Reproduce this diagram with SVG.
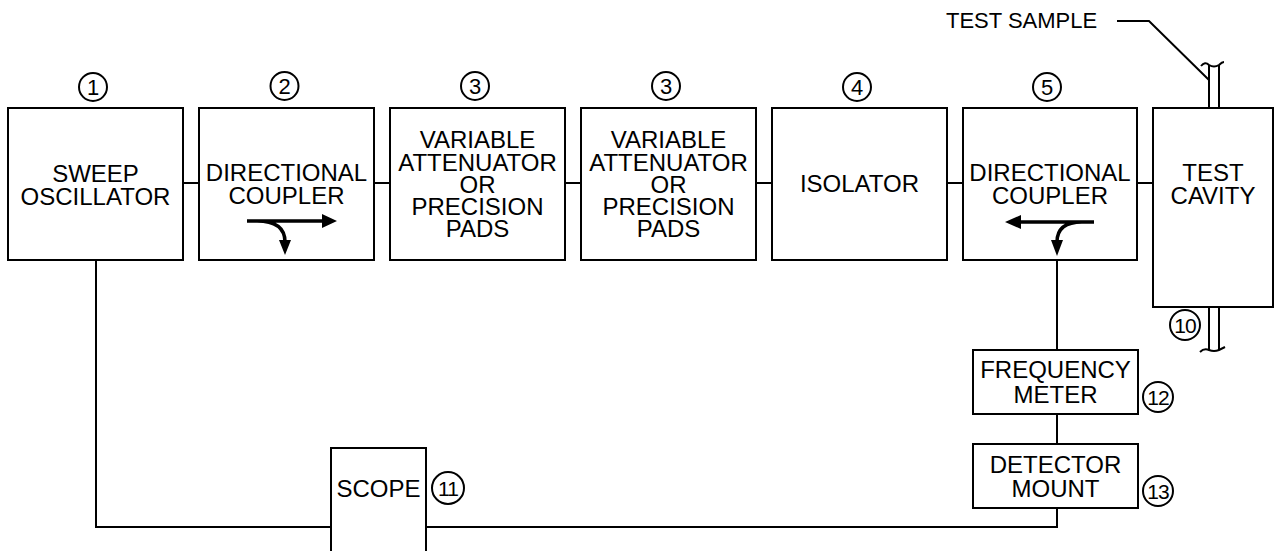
<svg xmlns="http://www.w3.org/2000/svg" width="1276" height="551" viewBox="0 0 1276 551">
<style>
.box{fill:#fff;stroke:#000;stroke-width:2}
.ln{fill:none;stroke:#000;stroke-width:2}
.arw{fill:none;stroke:#000;stroke-width:3.5}
.t{font-family:"Liberation Sans",Arial,sans-serif;font-size:24px;fill:#000;text-anchor:middle}
.n{font-family:"Liberation Sans",Arial,sans-serif;font-size:22px;fill:#000;text-anchor:middle}
.n2{font-family:"Liberation Sans",Arial,sans-serif;font-size:21px;fill:#000;text-anchor:middle;letter-spacing:-1px}
.c{fill:#fff;stroke:#000;stroke-width:2}
</style>
<rect width="1276" height="551" fill="#fff"/>
<g id="connectors">
<path class="ln" d="M183 183H199M374 183H390M565 183H581M756 183H772M947 183H963M1137 183H1153"/>
<path class="ln" d="M96 260V527H331M426 527H1057V508"/>
<path class="ln" d="M1057 260V350M1057 414V444"/>
</g>
<g id="n1">
<rect class="box" x="8" y="108" width="175" height="152"/>
<text class="t" x="95.5" y="182">SWEEP</text>
<text class="t" x="95.5" y="205">OSCILLATOR</text>
<circle class="c" cx="93" cy="87" r="14"/><text class="n" x="93" y="95">1</text>
</g>
<g id="n2">
<rect class="box" x="199" y="108" width="175" height="152"/>
<text class="t" x="286.5" y="181">DIRECTIONAL</text>
<text class="t" x="286.5" y="204">COUPLER</text>
<path class="arw" d="M247 221H324M257 221Q285 221 285 242"/>
<path d="M322 214L337 221L322 228Z M279 240L285 255L291 240Z"/>
<circle class="c" cx="284.5" cy="86" r="14"/><text class="n" x="284.5" y="94">2</text>
</g>
<g id="n3a">
<rect class="box" x="390" y="108" width="175" height="152"/>
<text class="t" x="477.5" y="148">VARIABLE</text>
<text class="t" x="477.5" y="171">ATTENUATOR</text>
<text class="t" x="477.5" y="193">OR</text>
<text class="t" x="477.5" y="215">PRECISION</text>
<text class="t" x="477.5" y="237">PADS</text>
<circle class="c" cx="475" cy="86" r="14"/><text class="n" x="475" y="94">3</text>
</g>
<g id="n3b">
<rect class="box" x="581" y="108" width="175" height="152"/>
<text class="t" x="668.5" y="148">VARIABLE</text>
<text class="t" x="668.5" y="171">ATTENUATOR</text>
<text class="t" x="668.5" y="193">OR</text>
<text class="t" x="668.5" y="215">PRECISION</text>
<text class="t" x="668.5" y="237">PADS</text>
<circle class="c" cx="666" cy="86" r="14"/><text class="n" x="666" y="94">3</text>
</g>
<g id="n4">
<rect class="box" x="772" y="108" width="175" height="152"/>
<text class="t" x="859.5" y="192">ISOLATOR</text>
<circle class="c" cx="857" cy="87" r="14"/><text class="n" x="857" y="95">4</text>
</g>
<g id="n5">
<rect class="box" x="963" y="108" width="174" height="152"/>
<text class="t" x="1050" y="181">DIRECTIONAL</text>
<text class="t" x="1050" y="204">COUPLER</text>
<path class="arw" d="M1094 222H1019M1082 222Q1057 222 1057 242"/>
<path d="M1021 215L1005 222L1021 229Z M1051 240L1057 256L1063 240Z"/>
<circle class="c" cx="1047" cy="87" r="14"/><text class="n" x="1047" y="95">5</text>
</g>
<g id="n10">
<rect class="box" x="1153" y="108" width="120" height="199"/>
<text class="t" x="1213" y="181">TEST</text>
<text class="t" x="1213" y="204">CAVITY</text>
<path class="ln" d="M1209 108V65M1219 108V65M1209 307V350M1219 307V350"/>
<path class="ln" d="M1201 66Q1205 61 1209 65Q1214 68 1219 65Q1222 62 1224 62"/>
<path class="ln" d="M1200 352Q1204 348 1209 350Q1214 352 1219 350Q1223 348 1225 347"/>
<circle class="c" cx="1185" cy="325" r="15"/><text class="n2" x="1185" y="333">10</text>
</g>
<g id="sample">
<text class="t" style="font-size:22px;text-anchor:start" x="946" y="28">TEST SAMPLE</text>
<path class="ln" d="M1117 21H1149L1209 80"/>
</g>
<g id="n12">
<rect class="box" x="973" y="350" width="165" height="64"/>
<text class="t" x="1055.5" y="378">FREQUENCY</text>
<text class="t" x="1055.5" y="403">METER</text>
<circle class="c" cx="1158" cy="397" r="15"/><text class="n2" x="1158" y="405">12</text>
</g>
<g id="n13">
<rect class="box" x="973" y="444" width="165" height="64"/>
<text class="t" x="1055.5" y="473">DETECTOR</text>
<text class="t" x="1055.5" y="497">MOUNT</text>
<circle class="c" cx="1158" cy="491" r="15"/><text class="n2" x="1158" y="499">13</text>
</g>
<g id="n11">
<rect class="box" x="331" y="448" width="95" height="110"/>
<text class="t" x="378.5" y="497">SCOPE</text>
<circle class="c" cx="448" cy="488" r="16"/><text class="n2" x="448" y="496">11</text>
</g>
</svg>
